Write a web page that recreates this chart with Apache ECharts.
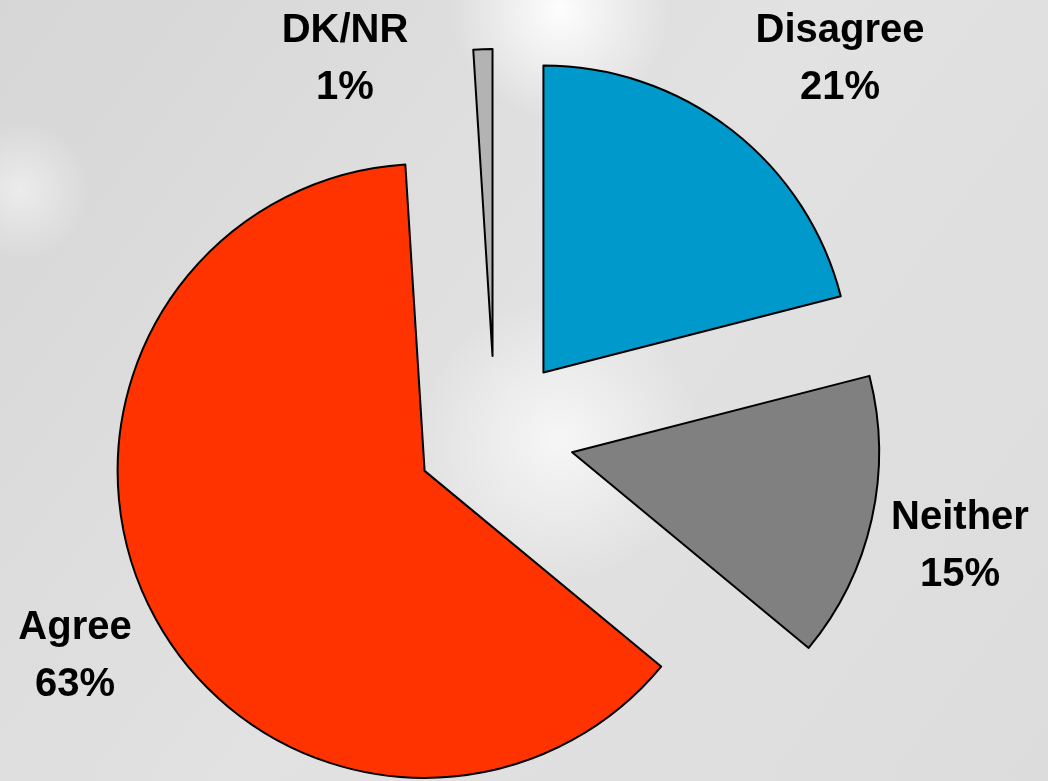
<!DOCTYPE html>
<html>
<head>
<meta charset="utf-8">
<script src="https://cdn.jsdelivr.net/npm/echarts@6/dist/echarts.min.js"></script>
<style>
html,body{margin:0;padding:0;}
#main{width:1048px;height:781px;}
</style>
</head>
<body>
<div id="main"></div>
<script>
const categories = ['Disagree', 'Neither', 'Agree', 'DK/NR'];
const values = [21, 15, 63, 1];
const colors = ['#0099CC', '#808080', '#FF3300', '#B3B3B3'];
const labelPos = [[840, 59], [960, 546], [75, 656], [345, 59]];

const labelGraphics = categories.map((c, i) => ({
  type: 'text',
  x: labelPos[i][0],
  y: labelPos[i][1],
  z: 10,
  style: {
    text: c + '\n' + values[i] + '%',
    font: 'bold 40px "Liberation Sans", Arial, sans-serif',
    lineHeight: 57,
    fill: '#000',
    align: 'center',
    verticalAlign: 'middle'
  }
}));

const glow = (cx, cy, r, a) => ({
  type: 'circle', z: -1, silent: true,
  shape: {cx: cx, cy: cy, r: r},
  style: {fill: {type: 'radial', x: 0.5, y: 0.5, r: 0.5, colorStops: [{offset: 0, color: 'rgba(255,255,255,' + a + ')'}, {offset: 1, color: 'rgba(255,255,255,0)'}]}}
});

const chart = echarts.init(document.getElementById('main'));
chart.setOption({
  backgroundColor: {
    type: 'linear', x: 0, y: 0, x2: 1, y2: 1,
    colorStops: [{offset: 0, color: '#d6d6d6'}, {offset: 0.5, color: '#e2e2e2'}, {offset: 1, color: '#dcdcdc'}]
  },
  graphic: [
    glow(560, 10, 110, 0.95),
    glow(560, 440, 140, 0.7),
    glow(20, 190, 70, 0.5)
  ].concat(labelGraphics),
  series: [{
    type: 'pie',
    center: [495, 435],
    radius: [0, 307],
    startAngle: 90,
    clockwise: true,
    selectedMode: 'multiple',
    selectedOffset: 79,
    animation: false,
    itemStyle: {borderColor: '#000', borderWidth: 2},
    emphasis: {disabled: true},
    label: {show: false},
    labelLine: {show: false},
    data: categories.map((c, i) => ({name: c, value: values[i], selected: true, itemStyle: {color: colors[i]}}))
  }]
});
</script>
</body>
</html>
